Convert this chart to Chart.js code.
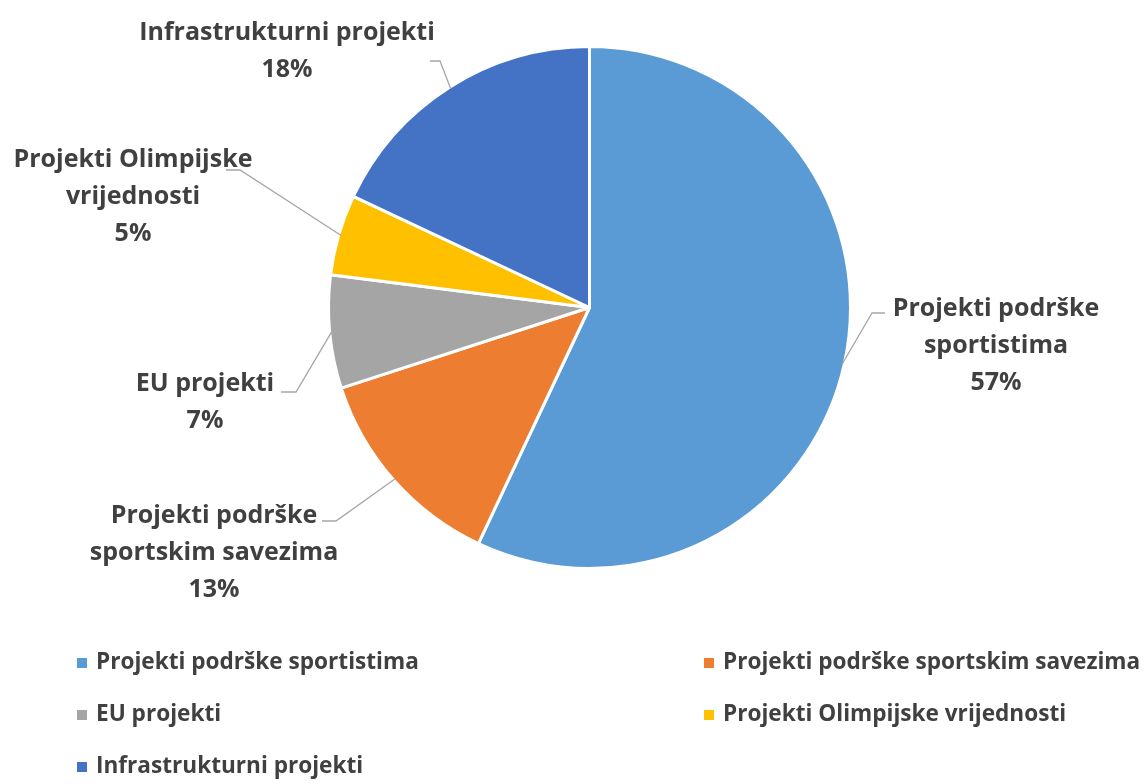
<!DOCTYPE html>
<html>
<head>
<meta charset="utf-8">
<script src="https://cdn.jsdelivr.net/npm/chart.js@4.4.0/dist/chart.umd.min.js"></script>
<style>
  html, body { margin: 0; padding: 0; background: #fff; }
  #wrap { position: relative; width: 1144px; height: 784px; }
</style>
</head>
<body>
<div id="wrap"><canvas id="pieChart"></canvas></div>
<script>
// === DATA ===
const categories = [
  "Projekti podrške sportistima",
  "Projekti podrške sportskim savezima",
  "EU projekti",
  "Projekti Olimpijske vrijednosti",
  "Infrastrukturni projekti"
];
const shares = [57, 13, 7, 5, 18];
const calloutLines = [
  ["Projekti podrške", "sportistima"],
  ["Projekti podrške", "sportskim savezima"],
  ["EU projekti"],
  ["Projekti Olimpijske", "vrijednosti"],
  ["Infrastrukturni projekti"]
];
const sliceColors = ["#5B9BD5", "#ED7D31", "#A5A5A5", "#FFC000", "#4472C4"];

const textColor = "#404040";
const fontFamily = "'Open Sans', 'Noto Sans', sans-serif";

// where each callout sits (first line centre) and its leader elbow
const calloutLayout = [
  { x: 996, y: 309, elbow: [[885, 313], [872, 313]] },
  { x: 214, y: 516, elbow: [[322, 521], [336, 521]] },
  { x: 205, y: 384, elbow: [[281, 392], [296, 392]] },
  { x: 133, y: 160, elbow: [[226, 170], [240, 170]] },
  { x: 287, y: 33,  elbow: [[430, 61], [440, 61]] }
];
const lineGap = 37;

// legend grid: two columns, three rows
const legendCols = [77, 704];
const legendRows = [663, 715, 767];

// === CALLOUTS ===
const calloutPlugin = {
  id: "callouts",
  afterDatasetsDraw(chart) {
    const ctx = chart.ctx;
    const arcs = chart.getDatasetMeta(0).data;
    const total = shares.reduce((a, b) => a + b, 0);

    ctx.save();
    arcs.forEach((arc, i) => {
      const { x, y, startAngle, endAngle, outerRadius } =
        arc.getProps(["x", "y", "startAngle", "endAngle", "outerRadius"], true);
      const mid = (startAngle + endAngle) / 2;
      const px = x + Math.cos(mid) * (outerRadius - 2);
      const py = y + Math.sin(mid) * (outerRadius - 2);
      const pos = calloutLayout[i];

      ctx.strokeStyle = "#A6A6A6";
      ctx.lineWidth = 1.3;
      ctx.beginPath();
      ctx.moveTo(pos.elbow[0][0], pos.elbow[0][1]);
      ctx.lineTo(pos.elbow[1][0], pos.elbow[1][1]);
      ctx.lineTo(px, py);
      ctx.stroke();

      ctx.fillStyle = textColor;
      ctx.font = `bold 25px ${fontFamily}`;
      ctx.textAlign = "center";
      ctx.textBaseline = "middle";
      const lines = calloutLines[i].concat([Math.round(shares[i] / total * 100) + "%"]);
      lines.forEach((t, k) => ctx.fillText(t, pos.x, pos.y + k * lineGap));
    });
    ctx.restore();
  }
};

// === LEGEND ===
const legendPlugin = {
  id: "gridLegend",
  afterDraw(chart) {
    const ctx = chart.ctx;
    ctx.save();
    ctx.font = `bold 22.6px ${fontFamily}`;
    ctx.textAlign = "left";
    ctx.textBaseline = "middle";
    categories.forEach((name, i) => {
      const cx = legendCols[i % 2];
      const cy = legendRows[Math.floor(i / 2)];
      ctx.fillStyle = sliceColors[i];
      ctx.fillRect(cx, cy - 5, 10, 10);
      ctx.fillStyle = textColor;
      ctx.fillText(name, cx + 19, cy);
    });
    ctx.restore();
  }
};

// === INIT ===
Chart.defaults.font.family = fontFamily;

new Chart(document.getElementById("pieChart"), {
  type: "pie",
  data: {
    labels: categories,
    datasets: [{
      data: shares,
      backgroundColor: sliceColors,
      borderColor: "#ffffff",
      borderWidth: 3
    }]
  },
  options: {
    responsive: true,
    maintainAspectRatio: false,
    animation: false,
    layout: { padding: { left: 327, right: 292, top: 45, bottom: 214 } },
    plugins: {
      legend: { display: false },
      tooltip: { enabled: false }
    }
  },
  plugins: [calloutPlugin, legendPlugin]
});
</script>
</body>
</html>
